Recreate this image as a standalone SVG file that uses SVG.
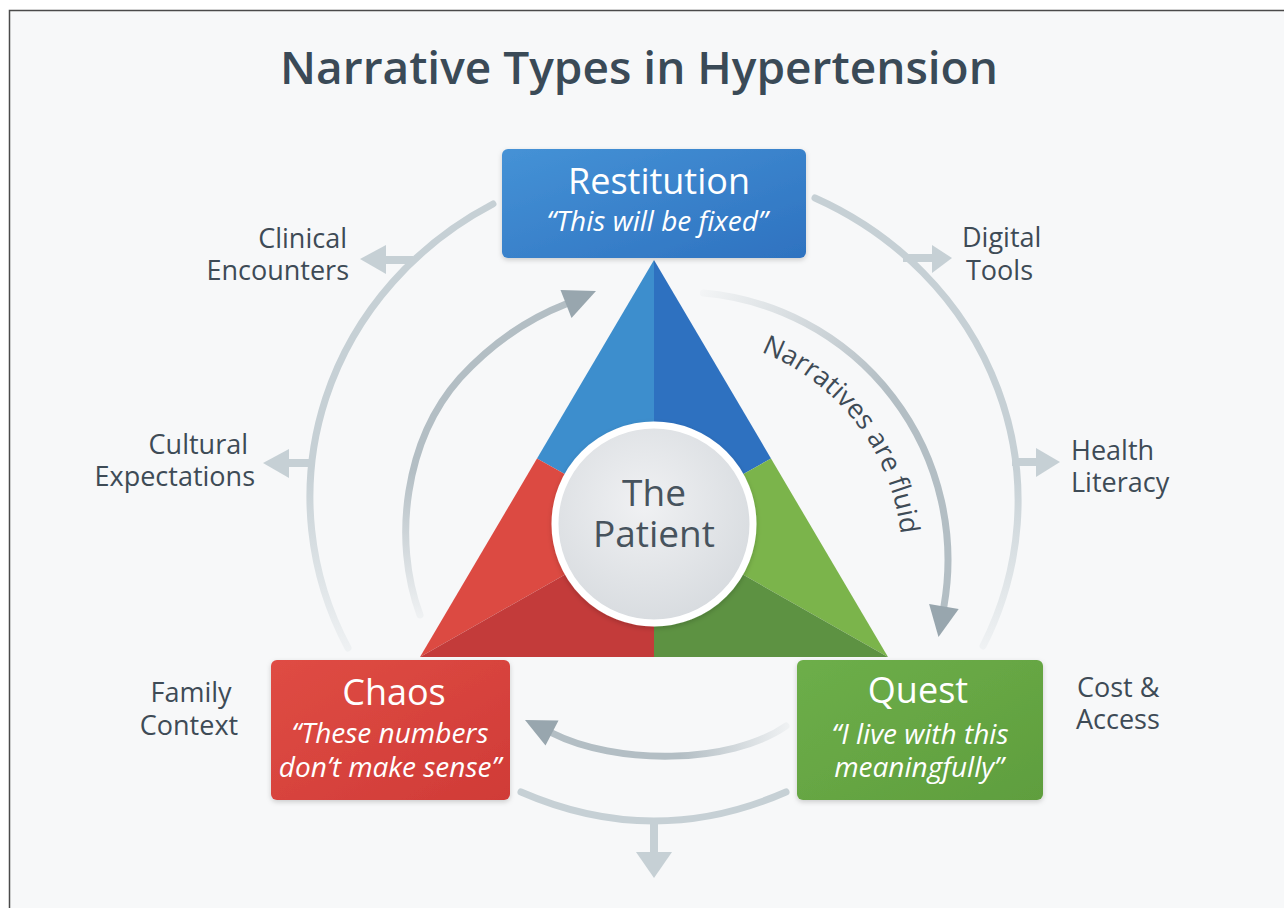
<svg xmlns="http://www.w3.org/2000/svg" width="1284" height="908" viewBox="0 0 1284 908">
  <defs>
    <style>
      text { font-family: "Open Sans", "Liberation Sans", sans-serif; }
      .title { font-size: 46px; font-weight: 600; fill: #3a4a57; }
      .lbl { font-size: 27px; fill: #3e4b56; }
      .btitle { font-size: 36px; fill: #ffffff; }
      .bquote { font-size: 28px; font-style: italic; fill: #ffffff; }
      .center { font-size: 37px; font-weight: 500; fill: #47535d; }
      .flow { font-size: 27px; fill: #3e4b56; }
      .outer { fill: none; stroke-width: 7; stroke-linecap: round; }
      .stub { fill: #c6d0d5; }
      .inner { fill: none; stroke-width: 7; stroke-linecap: round; }
      .head { fill: #98a6ae; }
    </style>
    <linearGradient id="gBlue" x1="0" y1="0" x2="1" y2="1">
      <stop offset="0" stop-color="#4592d6"/>
      <stop offset="1" stop-color="#2e72c0"/>
    </linearGradient>
    <linearGradient id="gRed" x1="0" y1="0" x2="1" y2="1">
      <stop offset="0" stop-color="#df4c44"/>
      <stop offset="1" stop-color="#d03b37"/>
    </linearGradient>
    <linearGradient id="gGreen" x1="0" y1="0" x2="1" y2="1">
      <stop offset="0" stop-color="#6dae49"/>
      <stop offset="1" stop-color="#5f9e3e"/>
    </linearGradient>
    <radialGradient id="gHub" cx="0.45" cy="0.4" r="0.65">
      <stop offset="0" stop-color="#f0f1f3"/>
      <stop offset="1" stop-color="#d6dade"/>
    </radialGradient>
    <!-- fading strokes for the arcs -->
    <linearGradient id="fadeLeftOuter" gradientUnits="userSpaceOnUse" x1="0" y1="470" x2="0" y2="655">
      <stop offset="0" stop-color="#c6d0d5"/>
      <stop offset="1" stop-color="#c6d0d5" stop-opacity="0.15"/>
    </linearGradient>
    <linearGradient id="fadeRightOuter" gradientUnits="userSpaceOnUse" x1="0" y1="470" x2="0" y2="650">
      <stop offset="0" stop-color="#c6d0d5"/>
      <stop offset="1" stop-color="#c6d0d5" stop-opacity="0.15"/>
    </linearGradient>
    <linearGradient id="fadeFlow" gradientUnits="userSpaceOnUse" x1="700" y1="290" x2="880" y2="400">
      <stop offset="0" stop-color="#b3bec4" stop-opacity="0.05"/>
      <stop offset="1" stop-color="#b3bec4"/>
    </linearGradient>
    <linearGradient id="fadeLeftInner" gradientUnits="userSpaceOnUse" x1="0" y1="620" x2="0" y2="470">
      <stop offset="0" stop-color="#b3bec4" stop-opacity="0.1"/>
      <stop offset="1" stop-color="#b3bec4"/>
    </linearGradient>
    <linearGradient id="fadeBottomInner" gradientUnits="userSpaceOnUse" x1="790" y1="0" x2="680" y2="0">
      <stop offset="0" stop-color="#b3bec4" stop-opacity="0.1"/>
      <stop offset="1" stop-color="#b3bec4"/>
    </linearGradient>
    <filter id="shadow" x="-10%" y="-10%" width="120%" height="130%">
      <feDropShadow dx="0" dy="2" stdDeviation="2.5" flood-color="#000" flood-opacity="0.18"/>
    </filter>
    <path id="flowPath" d="M 761 352 A 222 222 0 0 1 898.6 598.6"/>
  </defs>

  <!-- page -->
  <rect x="0" y="0" width="1284" height="908" fill="#ffffff"/>
  <rect x="10" y="11" width="1274" height="897" fill="#f7f8f9"/>
  <path d="M 9.5 908 V 10.5 H 1284" fill="none" stroke="#4a4a4a" stroke-width="1.5"/>

  <text class="title" x="639" y="84" text-anchor="middle">Narrative Types in Hypertension</text>

  <!-- connectors -->
  <g id="connectors">
    <!-- outer ring, left and right -->
    <path class="outer" stroke="url(#fadeLeftOuter)" d="M 493 204 A 355 335 0 0 0 348 648"/>
    <path class="outer" stroke="url(#fadeRightOuter)" d="M 815 198 A 355 335 0 0 1 983 646"/>
    <!-- branches to context labels -->
    <rect class="stub" x="382" y="256" width="31" height="8"/>
    <polygon class="stub" points="360,259 386,245 386,274"/>
    <rect class="stub" x="285" y="459" width="27" height="8"/>
    <polygon class="stub" points="263,463 289,449 289,478"/>
    <rect class="stub" x="903" y="254" width="34" height="8"/>
    <polygon class="stub" points="952,258 932,245 932,273"/>
    <rect class="stub" x="1012" y="458" width="28" height="8"/>
    <polygon class="stub" points="1060,462 1036,448 1036,477"/>
    <!-- bottom outer arc with drop arrow -->
    <path class="outer" stroke="#c6d0d5" d="M 521 792 Q 654 850 786 792"/>
    <rect class="stub" x="650" y="818" width="8" height="36"/>
    <polygon class="stub" points="636,852 672,852 654,878"/>

    <!-- inner cycle: Chaos -> Restitution -->
    <path class="inner" stroke="url(#fadeLeftInner)" d="M 420 615 C 392 540, 405 440, 460 378 C 495 340, 530 318, 566 304"/>
    <polygon class="head" points="596,291 571.5,318 560.5,290"/>
    <!-- Restitution -> Quest ("Narratives are fluid") -->
    <path class="inner" stroke="url(#fadeFlow)" d="M 703.4 293 A 268 268 0 0 1 943.9 606.5"/>
    <polygon class="head" points="938.5,637 958.7,609.1 929.1,603.9"/>
    <!-- Quest -> Chaos -->
    <path class="inner" stroke="url(#fadeBottomInner)" d="M 786 726 C 730 765, 615 765, 552 733"/>
    <polygon class="head" points="525,720 558.5,720.5 545.5,745.5"/>

    <text class="flow"><textPath href="#flowPath">Narratives are fluid</textPath></text>
  </g>

  <!-- central triangle -->
  <g id="triangle">
    <polygon points="654,260 654,524 537,458.5" fill="#3d8ecd"/>
    <polygon points="654,260 771,458.5 654,524" fill="#2e71c0"/>
    <polygon points="537,458.5 654,524 420,657" fill="#dc4a42"/>
    <polygon points="420,657 654,524 654,657" fill="#c33b3a"/>
    <polygon points="771,458.5 888,657 654,524" fill="#7bb44b"/>
    <polygon points="654,524 888,657 654,657" fill="#5d9242"/>
  </g>

  <g id="patient">
    <circle cx="654" cy="524" r="99" fill="url(#gHub)" stroke="#ffffff" stroke-width="7" filter="url(#shadow)"/>
    <text class="center" text-anchor="middle"><tspan x="654" y="506">The</tspan><tspan x="654" y="547">Patient</tspan></text>
  </g>

  <g id="restitution">
    <rect x="502" y="149" width="304" height="109" rx="6" fill="url(#gBlue)" filter="url(#shadow)"/>
    <text text-anchor="middle"><tspan class="btitle" x="659" y="194">Restitution</tspan><tspan class="bquote" x="657" y="231" font-size="29">“This will be fixed”</tspan></text>
  </g>

  <g id="chaos">
    <rect x="271" y="660" width="239" height="140" rx="6" fill="url(#gRed)" filter="url(#shadow)"/>
    <text text-anchor="middle"><tspan class="btitle" x="394" y="705" font-size="35">Chaos</tspan><tspan class="bquote" x="390" y="743" font-size="27">“These numbers</tspan><tspan class="bquote" x="390" y="777" font-size="27">don’t make sense”</tspan></text>
  </g>

  <g id="quest">
    <rect x="797" y="660" width="246" height="140" rx="6" fill="url(#gGreen)" filter="url(#shadow)"/>
    <text text-anchor="middle"><tspan class="btitle" x="918" y="703" font-size="35">Quest</tspan><tspan class="bquote" x="920" y="744" font-size="29">“I live with this</tspan><tspan class="bquote" x="919" y="777" font-size="29">meaningfully”</tspan></text>
  </g>

  <g id="context-labels">
    <text id="clinical" class="lbl" text-anchor="end"><tspan x="347" y="248">Clinical</tspan><tspan x="349" y="280">Encounters</tspan></text>
    <text id="cultural" class="lbl" text-anchor="end"><tspan x="248" y="454">Cultural</tspan><tspan x="255" y="486">Expectations</tspan></text>
    <text id="family" class="lbl" text-anchor="middle"><tspan x="191" y="702">Family</tspan><tspan x="189" y="735">Context</tspan></text>
    <text id="digital" class="lbl"><tspan x="962" y="247">Digital</tspan><tspan x="966" y="280">Tools</tspan></text>
    <text id="health" class="lbl"><tspan x="1071" y="460">Health</tspan><tspan x="1071" y="492">Literacy</tspan></text>
    <text id="cost" class="lbl"><tspan x="1077" y="697">Cost &amp;</tspan><tspan x="1076" y="729">Access</tspan></text>
  </g>
</svg>
